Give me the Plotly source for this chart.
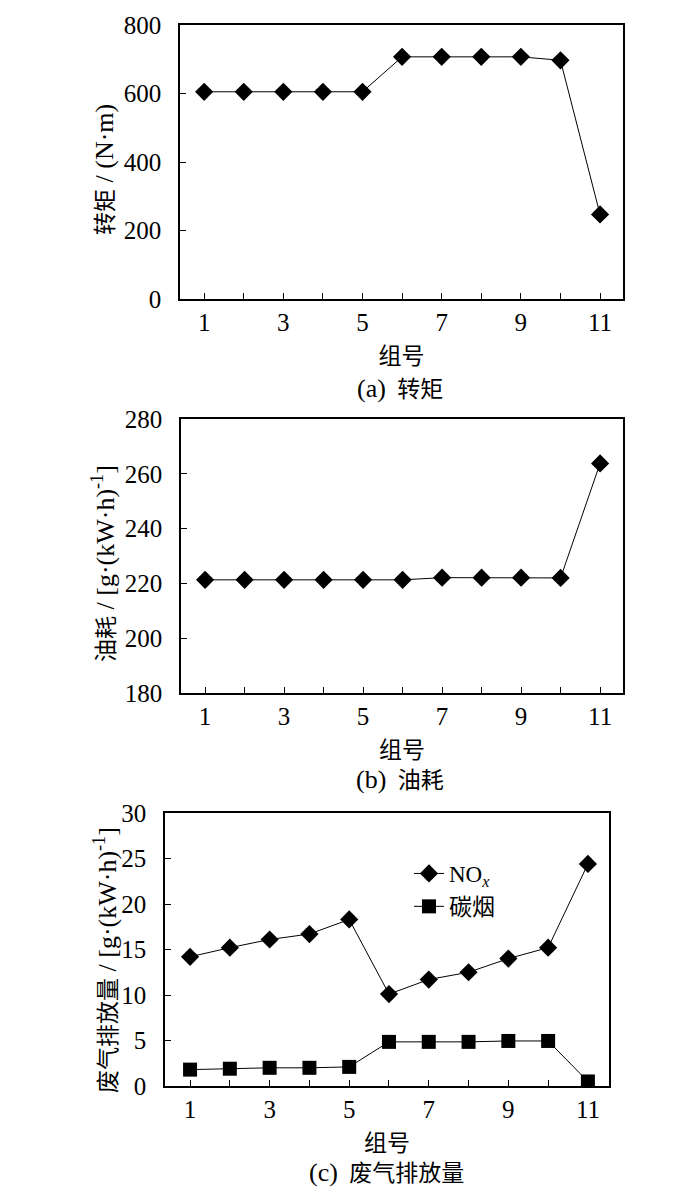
import plotly.graph_objects as go

# data
groups = [1, 2, 3, 4, 5, 6, 7, 8, 9, 10, 11]
torque = [605, 605, 605, 605, 605, 707, 707, 707, 707, 697, 247]
fuel = [221.3, 221.3, 221.3, 221.3, 221.3, 221.3, 222.1, 222.1, 222.1, 222.0, 263.8]
nox = [14.2, 15.2, 16.1, 16.7, 18.3, 10.1, 11.7, 12.5, 14.0, 15.2, 24.4]
soot = [1.8, 1.9, 2.0, 2.0, 2.1, 4.85, 4.85, 4.85, 4.95, 4.95, 0.5]

x_labels = [1, 3, 5, 7, 9, 11]

W, H = 700, 1202
PAGE_MARGIN = 8  # default <body> margin of the html page
FONT = "'Liberation Serif', 'Times New Roman', 'Noto Sans CJK SC', serif"
LATIN = '<span style="font-size:26px">%s</span>'


# helpers: window pixel -> paper fraction
def px_x(p):
    return (p - PAGE_MARGIN) / W


def px_y(p):
    return 1 - (p - PAGE_MARGIN) / H


fig = go.Figure()

line = dict(color='black', width=1)
fig.add_trace(go.Scatter(x=groups, y=torque, mode='lines+markers', line=line,
                         marker=dict(symbol='diamond', size=14, color='black'),
                         xaxis='x', yaxis='y', showlegend=False))
fig.add_trace(go.Scatter(x=groups, y=fuel, mode='lines+markers', line=line,
                         marker=dict(symbol='diamond', size=14, color='black'),
                         xaxis='x2', yaxis='y2', showlegend=False))
fig.add_trace(go.Scatter(x=groups, y=nox, mode='lines+markers', line=line,
                         marker=dict(symbol='diamond', size=14, color='black'),
                         xaxis='x3', yaxis='y3', name='NO<sub><i>x</i></sub>'))
fig.add_trace(go.Scatter(x=groups, y=soot, mode='lines+markers', line=line,
                         marker=dict(symbol='square', size=14, color='black'),
                         xaxis='x3', yaxis='y3', name='碳烟'))

title_font = dict(family=FONT, size=23, color='black')
common = dict(showline=True, linecolor='black', linewidth=1.5, mirror=True,
              ticks='inside', tickcolor='black', tickwidth=1.2, ticklen=6,
              showgrid=False, zeroline=False, automargin=False,
              tickfont=dict(family=FONT, size=25, color='black'))
xcommon = dict(common, tickmode='array', tickvals=x_labels, ticklabelstandoff=0,
               minor=dict(dtick=1, tick0=0, ticks='inside', ticklen=6,
                          tickcolor='black', tickwidth=1.2, showgrid=False),
               title=dict(text='组号', font=title_font, standoff=13))
ycommon = dict(common, ticklabelstandoff=12)

fig.update_layout(
    xaxis=dict(xcommon, domain=[px_x(180), px_x(623)], range=[0.39, 11.58], anchor='y'),
    yaxis=dict(ycommon, domain=[px_y(299), px_y(25)], range=[0, 800], dtick=200, anchor='x'),
    xaxis2=dict(xcommon, domain=[px_x(181), px_x(623)], range=[0.39, 11.58], anchor='y2'),
    yaxis2=dict(ycommon, domain=[px_y(693), px_y(419)], range=[180, 280], dtick=20, anchor='x2'),
    xaxis3=dict(xcommon, domain=[px_x(165), px_x(609)], range=[0.37, 11.53], anchor='y3'),
    yaxis3=dict(ycommon, domain=[px_y(1086), px_y(813)], range=[0, 30], dtick=5, anchor='x3'),
)

labels = [
    # captions under each panel
    (LATIN % '(a)' + '  转矩', 400, 389, 0),
    (LATIN % '(b)' + '  油耗', 400, 779, 0),
    (LATIN % '(c)' + '  废气排放量', 386, 1172, 0),
    # y-axis titles
    ('转矩' + LATIN % ' / (N·m)', 104, 170, -90),
    ('油耗' + LATIN % ' / [g·(kW·h)<sup>-1</sup>]', 103, 563, -90),
    ('废气排放量' + LATIN % ' / [g·(kW·h)<sup>-1</sup>]', 105, 960, -90),
]
annotations = []
for txt, cx, cy, ang in labels:
    annotations.append(dict(text=txt, x=px_x(cx), y=px_y(cy), xref='paper', yref='paper',
                            showarrow=False, textangle=ang, xanchor='center', yanchor='middle',
                            font=dict(family=FONT, size=23, color='black')))

fig.update_layout(
    width=W, height=H,
    margin=dict(l=0, r=0, t=0, b=0),
    paper_bgcolor='white',
    plot_bgcolor='white',
    annotations=annotations,
    legend=dict(x=px_x(409), y=px_y(852), xanchor='left', yanchor='top',
                bgcolor='rgba(0,0,0,0)', font=dict(family=FONT, size=23, color='black'),
                tracegroupgap=0),
)

fig.write_html("out.html", config={'displayModeBar': False})
